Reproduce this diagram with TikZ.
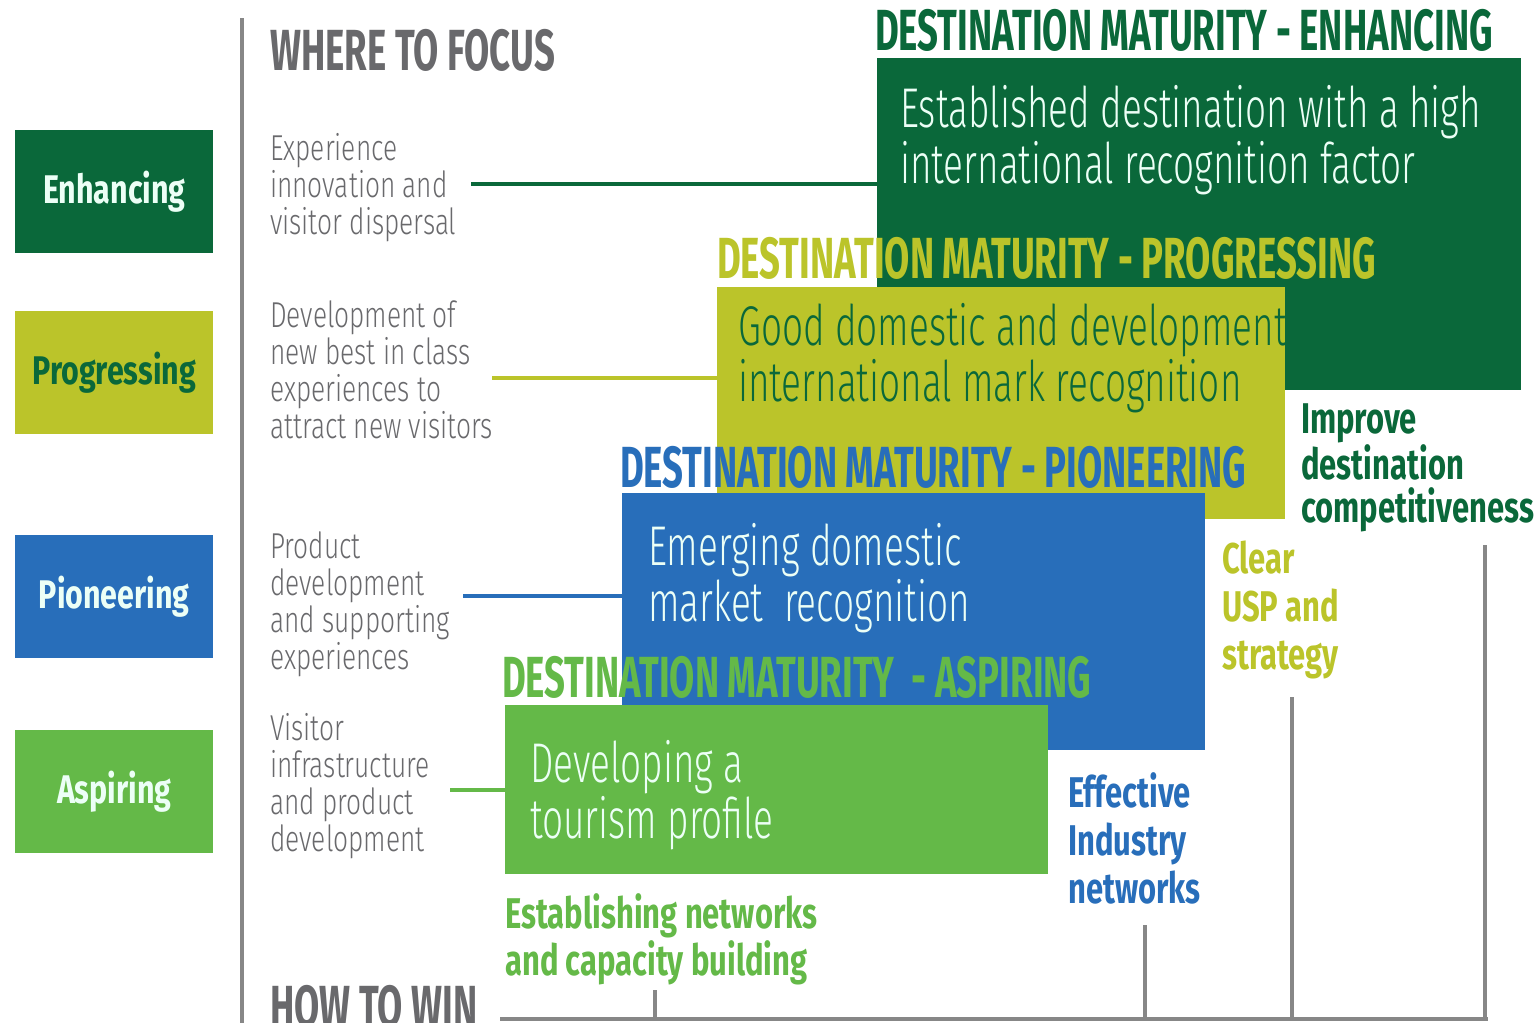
\documentclass[tikz,border=0pt]{standalone}
\usepackage{fontspec}
\setmainfont{Fira Sans}
\newfontfamily\condlight{Fira Sans Light}[FakeStretch=0.66]
\newfontfamily\condfocus{Fira Sans Light}[FakeStretch=0.73]
\newfontfamily\condhead{Fira Sans}[FakeStretch=0.63]
\newfontfamily\condtag{Fira Sans}[FakeStretch=0.76]
\newfontfamily\condlabel{Fira Sans}[FakeStretch=0.72]

\definecolor{dgreen}{RGB}{10,104,58}
\definecolor{ygreen}{RGB}{187,196,42}
\definecolor{mblue}{RGB}{40,110,186}
\definecolor{lgreen}{RGB}{100,185,72}
\definecolor{txtgray}{RGB}{105,105,108}
\definecolor{rulegray}{RGB}{135,135,135}
\definecolor{mint}{RGB}{236,255,246}

% multi-line texts are placed by the baseline of their last line
\tikzset{
  tag/.style={fill=#1, anchor=north west, inner sep=0pt, minimum width=198pt, minimum height=123pt,
    font=\condtag\bfseries\fontsize{40}{40}\selectfont},
  panel/.style={fill=#1, anchor=north west, inner sep=0pt},
  hdr/.style={anchor=base west, inner sep=0pt, text=#1,
    font=\condhead\bfseries\fontsize{58}{58}\selectfont},
  paneltext/.style={anchor=base west, inner sep=0pt, align=left, text=#1,
    font=\condlight\fontsize{56}{56}\selectfont},
  focus/.style={anchor=base west, inner sep=0pt, align=left, text=txtgray,
    font=\condfocus\fontsize{36}{37}\selectfont},
  winlabel/.style={anchor=base west, inner sep=0pt, align=left, text=#1,
    font=\condlabel\bfseries\fontsize{43}{48}\selectfont},
  title/.style={anchor=base west, inner sep=0pt, text=txtgray,
    font=\condhead\bfseries\fontsize{58}{58}\selectfont},
  link/.style={draw=#1, line width=4pt},
  rule/.style={draw=rulegray, line width=4pt}
}

\begin{document}
\begin{tikzpicture}[x=1pt, y=-1pt]
\useasboundingbox (0,0) rectangle (1540,1023);

% left column of stage tags
\node[tag=dgreen, text=mint] (tE) at (15,130) {Enhancing};
\node[tag=ygreen, text=dgreen] (tP) at (15,311) {Progressing};
\node[tag=mblue, text=mint] (tI) at (15,535) {Pioneering};
\node[tag=lgreen, text=mint] (tA) at (15,730) {Aspiring};

% separator rule
\coordinate (sepTop) at (242,18);
\coordinate (sepBot) at (242,1023);
\draw[rule] (sepTop) -- (sepBot);

% headings
\node[title] (focusTitle) at (270,70) {WHERE TO FOCUS};
\node[title] (winTitle) at (270,1026) {HOW TO WIN};

% focus areas
\node[focus] (fE) at (270,234) {Experience\\innovation and\\visitor dispersal};
\node[focus] (fP) at (270,438) {Development of\\new best in class\\experiences to\\attract new visitors};
\node[focus] (fI) at (270,669) {Product\\development\\and supporting\\experiences};
\node[focus] (fA) at (270,851) {Visitor\\infrastructure\\and product\\development};

% maturity stages, back to front
\node[hdr=dgreen] (hE) at (875,50) {DESTINATION MATURITY - ENHANCING};
\node[panel=dgreen, minimum width=644pt, minimum height=332pt] (pE) at (877,58) {};
\node[paneltext=mint] (xE) at (900,183) {Established destination with a high\\international recognition factor};

\node[hdr=ygreen] (hP) at (717,278) {DESTINATION MATURITY - PROGRESSING};
\node[panel=ygreen, minimum width=568pt, minimum height=232pt] (pP) at (717,287) {};
\node[paneltext=dgreen] (xP) at (738,401) {Good domestic and development\\international mark recognition};

\node[hdr=mblue] (hI) at (620,487) {DESTINATION MATURITY - PIONEERING};
\node[panel=mblue, minimum width=583pt, minimum height=257pt] (pI) at (622,493) {};
\node[paneltext=mint] (xI) at (648,621) {Emerging domestic\\market~~recognition};

\node[hdr=lgreen] (hA) at (502,697) {DESTINATION MATURITY~~- ASPIRING};
\node[panel=lgreen, minimum width=543pt, minimum height=169pt] (pA) at (505,705) {};
\node[paneltext=mint] (xA) at (530,838) {Developing a\\tourism profile};

% links from focus areas to stages
\coordinate (lE) at (471,184);
\coordinate (lP) at (492,378);
\coordinate (lI) at (463,596);
\coordinate (lA) at (450,790);
\draw[link=dgreen] (lE) -- (lE -| pE.west);
\draw[link=ygreen] (lP) -- (lP -| pP.west);
\draw[link=mblue] (lI) -- (lI -| pI.west);
\draw[link=lgreen] (lA) -- (lA -| pA.west);

% how to win outcomes
\node[winlabel=dgreen, font=\condlabel\bfseries\fontsize{43}{43}\selectfont] (wE) at (1301,522) {Improve\\destination\\competitiveness};
\node[winlabel=ygreen] (wP) at (1222,669) {Clear\\USP and\\strategy};
\node[winlabel=mblue] (wI) at (1068,903) {Effective\\Industry\\networks};
\node[winlabel=lgreen, font=\condlabel\bfseries\fontsize{43}{47}\selectfont] (wA) at (505,975) {Establishing networks\\and capacity building};

% baseline and ticks
\coordinate (bL) at (500,1019);
\coordinate (bR) at (1488,1019);
\draw[rule] (bL) -- (bR);
\coordinate (kA) at (655,990);
\coordinate (kI) at (1145,925);
\coordinate (kP) at (1292,697);
\coordinate (kE) at (1485,545);
\draw[rule] (kA) -- (kA |- bL);
\draw[rule] (kI) -- (kI |- bL);
\draw[rule] (kP) -- (kP |- bL);
\draw[rule] (kE) -- (kE |- bL);
\end{tikzpicture}
\end{document}
